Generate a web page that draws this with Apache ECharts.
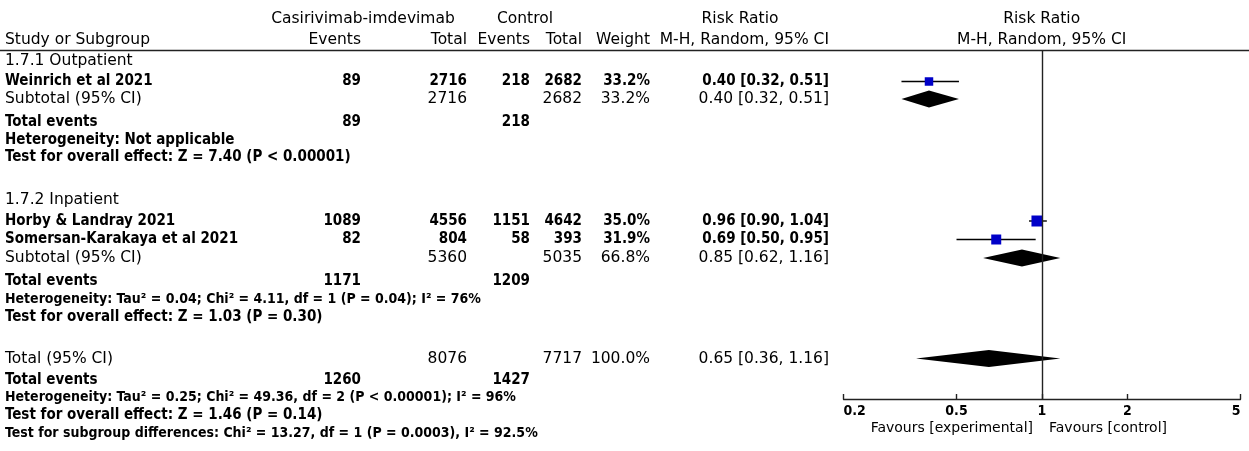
<!DOCTYPE html>
<html>
<head>
<meta charset="utf-8">
<script src="https://cdn.jsdelivr.net/npm/echarts@6/dist/echarts.min.js"></script>
<style>
html,body{margin:0;padding:0;background:#fff;}
#c{width:1249px;height:451px;}
</style>
</head>
<body>
<div id="c"></div>
<script>
// ---------------- DATA ----------------
const studyNames   = ['Weinrich et al 2021', 'Horby & Landray 2021', 'Somersan-Karakaya et al 2021'];
const studyGroup   = [0, 1, 1];
const expEvents    = [89, 1089, 82];
const expTotal     = [2716, 4556, 804];
const ctlEvents    = [218, 1151, 58];
const ctlTotal     = [2682, 4642, 393];
const studyWeight  = [33.2, 35.0, 31.9];
const studyRR      = [0.40, 0.96, 0.69];
const studyLo      = [0.32, 0.90, 0.50];
const studyHi      = [0.51, 1.04, 0.95];

const groupNames     = ['1.7.1 Outpatient', '1.7.2 Inpatient'];
const subExpTotal    = [2716, 5360];
const subCtlTotal    = [2682, 5035];
const subWeight      = [33.2, 66.8];
const subRR          = [0.40, 0.85];
const subLo          = [0.32, 0.62];
const subHi          = [0.51, 1.16];
const subExpEvents   = [89, 1171];
const subCtlEvents   = [218, 1209];
const subHetero      = ['Heterogeneity: Not applicable',
                        'Heterogeneity: Tau\u00b2 = 0.04; Chi\u00b2 = 4.11, df = 1 (P = 0.04); I\u00b2 = 76%'];
const subOverall     = ['Test for overall effect: Z = 7.40 (P < 0.00001)',
                        'Test for overall effect: Z = 1.03 (P = 0.30)'];

const totExpTotal  = 8076, totCtlTotal = 7717, totWeight = 100.0;
const totRR = 0.65, totLo = 0.36, totHi = 1.16;
const totExpEvents = 1260, totCtlEvents = 1427;
const totHetero    = 'Heterogeneity: Tau\u00b2 = 0.25; Chi\u00b2 = 49.36, df = 2 (P < 0.00001); I\u00b2 = 96%';
const totOverall   = 'Test for overall effect: Z = 1.46 (P = 0.14)';
const totSubgroup  = 'Test for subgroup differences: Chi\u00b2 = 13.27, df = 1 (P = 0.0003), I\u00b2 = 92.5%';

const tickValues   = [0.2, 0.5, 1, 2, 5];
const favourLeft   = 'Favours [experimental]';
const favourRight  = 'Favours [control]';

// ---------------- LAYOUT (pixels / styles) ----------------
const W = 1249, H = 451;
const HEADER_LINE_Y = 50.5, AXIS_Y = 399;
const PLOT_LEFT = 843.5, PLOT_RIGHT = 1240.5;
const COL = {name: 5, expEv: 361, expTot: 467, ctlEv: 530, ctlTot: 582, weight: 650, rr: 829};
const GROUP_ROWS = [
  {title: 61,  studies: [81.5],        sub: 99,  events: 122.5, het: 140, eff: 157},
  {title: 200, studies: [221, 239.5],  sub: 258, events: 281.5, het: 299, eff: 317}
];
const TOTAL_ROWS = {total: 358.5, events: 380.5, het: 397.5, eff: 415, subgroup: 433};
const SQUARE_PX = [8.5, 11, 10];
const DIAMOND_HALF = 8.5;

const REG   = 'normal 15.5px "DejaVu Sans", sans-serif';
const BOLD  = 'bold 15px "DejaVu Sans Condensed", "DejaVu Sans", sans-serif';
const BOLDS = 'bold 14px "DejaVu Sans Condensed", "DejaVu Sans", sans-serif';
const FAV   = 'normal 14px "DejaVu Sans", sans-serif';
const INK = '#000';

// ---------------- BUILD ----------------
const fmtRR = (e, l, h) => e.toFixed(2) + ' [' + l.toFixed(2) + ', ' + h.toFixed(2) + ']';
const fmtW = w => w.toFixed(1) + '%';

const texts = [];
function T(str, x, y, align, font) {
  texts.push({type: 'text', x: x, y: y, silent: true,
    style: {text: String(str), font: font || REG, fill: INK, align: align || 'left', verticalAlign: 'middle'}});
}

T('Casirivimab-imdevimab', 363, 19, 'center');
T('Control', 525, 19, 'center');
T('Risk Ratio', 740, 19, 'center');
T('Risk Ratio', 1041.7, 19, 'center');
T('Study or Subgroup', COL.name, 40, 'left');
T('Events', COL.expEv, 40, 'right');
T('Total', COL.expTot, 40, 'right');
T('Events', COL.ctlEv, 40, 'right');
T('Total', COL.ctlTot, 40, 'right');
T('Weight', COL.weight, 40, 'right');
T('M-H, Random, 95% CI', COL.rr, 40, 'right');
T('M-H, Random, 95% CI', 1041.7, 40, 'center');

const studyPoints = [];
const diamonds = [];

GROUP_ROWS.forEach((g, gi) => {
  T(groupNames[gi], COL.name, g.title, 'left');
  let k = 0;
  studyNames.forEach((nm, si) => {
    if (studyGroup[si] !== gi) return;
    const y = g.studies[k++];
    T(nm, COL.name, y, 'left', BOLD);
    T(expEvents[si], COL.expEv, y, 'right', BOLD);
    T(expTotal[si], COL.expTot, y, 'right', BOLD);
    T(ctlEvents[si], COL.ctlEv, y, 'right', BOLD);
    T(ctlTotal[si], COL.ctlTot, y, 'right', BOLD);
    T(fmtW(studyWeight[si]), COL.weight, y, 'right', BOLD);
    T(fmtRR(studyRR[si], studyLo[si], studyHi[si]), COL.rr, y, 'right', BOLD);
    studyPoints.push([studyLo[si], studyHi[si], studyRR[si], y, si]);
  });
  T('Subtotal (95% CI)', COL.name, g.sub, 'left');
  T(subExpTotal[gi], COL.expTot, g.sub, 'right');
  T(subCtlTotal[gi], COL.ctlTot, g.sub, 'right');
  T(fmtW(subWeight[gi]), COL.weight, g.sub, 'right');
  T(fmtRR(subRR[gi], subLo[gi], subHi[gi]), COL.rr, g.sub, 'right');
  diamonds.push([subLo[gi], subHi[gi], subRR[gi], g.sub]);
  T('Total events', COL.name, g.events, 'left', BOLD);
  T(subExpEvents[gi], COL.expEv, g.events, 'right', BOLD);
  T(subCtlEvents[gi], COL.ctlEv, g.events, 'right', BOLD);
  T(subHetero[gi], COL.name, g.het, 'left', gi === 0 ? BOLD : BOLDS);
  T(subOverall[gi], COL.name, g.eff, 'left', BOLD);
});

const R = TOTAL_ROWS;
T('Total (95% CI)', COL.name, R.total, 'left');
T(totExpTotal, COL.expTot, R.total, 'right');
T(totCtlTotal, COL.ctlTot, R.total, 'right');
T(fmtW(totWeight), COL.weight, R.total, 'right');
T(fmtRR(totRR, totLo, totHi), COL.rr, R.total, 'right');
diamonds.push([totLo, totHi, totRR, R.total]);
T('Total events', COL.name, R.events, 'left', BOLD);
T(totExpEvents, COL.expEv, R.events, 'right', BOLD);
T(totCtlEvents, COL.ctlEv, R.events, 'right', BOLD);
T(totHetero, COL.name, R.het, 'left', BOLDS);
T(totOverall, COL.name, R.eff, 'left', BOLD);
T(totSubgroup, COL.name, R.subgroup, 'left', BOLDS);

T(favourLeft, 1033, 428, 'right', FAV);
T(favourRight, 1049, 428, 'left', FAV);

texts.push({type: 'line', silent: true, shape: {x1: 0, y1: HEADER_LINE_Y, x2: W, y2: HEADER_LINE_Y},
  style: {stroke: '#222', lineWidth: 1.5}});

const chart = echarts.init(document.getElementById('c'), null, {renderer: 'canvas'});
chart.setOption({
  animation: false,
  backgroundColor: '#fff',
  grid: {left: PLOT_LEFT, right: W - PLOT_RIGHT, top: HEADER_LINE_Y, bottom: H - AXIS_Y, containLabel: false},
  xAxis: {
    type: 'log', logBase: 10, min: tickValues[0], max: tickValues[tickValues.length - 1],
    axisLine: {show: true, onZero: false, lineStyle: {color: '#222', width: 1.4}},
    axisTick: {show: true, inside: true, length: 5, customValues: tickValues, lineStyle: {color: '#222', width: 1.4}},
    axisLabel: {show: true, customValues: tickValues, margin: 5, color: INK,
      fontFamily: '"DejaVu Sans Condensed", "DejaVu Sans", sans-serif', fontWeight: 'bold', fontSize: 14,
      alignMinLabel: 'left', alignMaxLabel: 'right',
      formatter: v => String(v)},
    splitLine: {show: false}
  },
  yAxis: {type: 'value', inverse: true, min: HEADER_LINE_Y, max: AXIS_Y, show: false},
  graphic: {elements: texts},
  series: [
    {
      type: 'custom', name: 'studies', silent: true,
      data: studyPoints,
      encode: {x: 2, y: 3},
      renderItem: function (params, api) {
        const lo = api.coord([api.value(0), api.value(3)]);
        const hi = api.coord([api.value(1), api.value(3)]);
        const c = api.coord([api.value(2), api.value(3)]);
        const s = SQUARE_PX[api.value(4)];
        return {type: 'group', children: [
          {type: 'line', shape: {x1: lo[0], y1: lo[1], x2: hi[0], y2: hi[1]}, style: {stroke: '#000', lineWidth: 1.4}},
          {type: 'rect', shape: {x: c[0] - s / 2, y: c[1] - s / 2, width: s, height: s}, style: {fill: '#0000c8'}}
        ]};
      },
      markLine: {silent: true, symbol: 'none', label: {show: false},
        lineStyle: {color: '#222', width: 1.4, type: 'solid'}, data: [{xAxis: 1}]}
    },
    {
      type: 'custom', name: 'diamonds', silent: true,
      data: diamonds,
      encode: {x: 2, y: 3},
      renderItem: function (params, api) {
        const lo = api.coord([api.value(0), api.value(3)]);
        const hi = api.coord([api.value(1), api.value(3)]);
        const c = api.coord([api.value(2), api.value(3)]);
        return {type: 'polygon', shape: {points: [[lo[0], lo[1]], [c[0], c[1] - DIAMOND_HALF], [hi[0], hi[1]], [c[0], c[1] + DIAMOND_HALF]]},
          style: {fill: '#000'}};
      }
    }
  ]
});
</script>
</body>
</html>
